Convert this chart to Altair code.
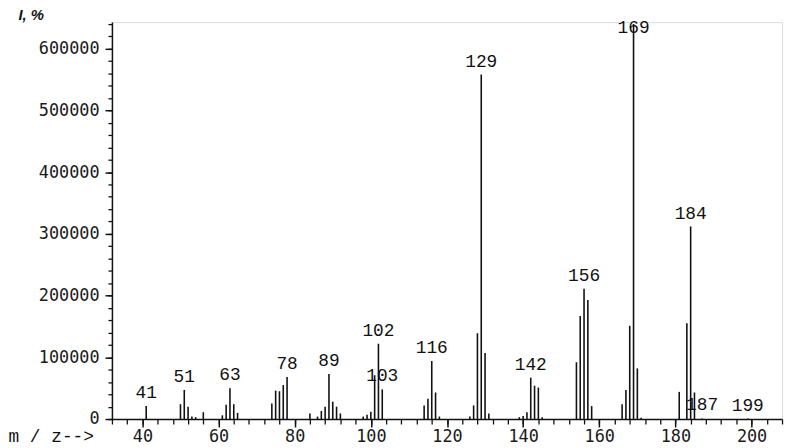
import altair as alt
import pandas as pd

# m/z of every peak stick and its abundance
mz_values = [41, 50, 51, 52, 53, 54, 56,
             61, 62, 63, 64, 65,
             74, 75, 76, 77, 78,
             84, 86, 87, 88, 89, 90, 91, 92,
             98, 99, 100, 101, 102, 103,
             114, 115, 116, 117, 118,
             126, 127, 128, 129, 130, 131,
             139, 140, 141, 142, 143, 144, 145,
             154, 155, 156, 157, 158,
             166, 167, 168, 169, 170, 171,
             181, 183, 184, 185,
             187, 199]
intensity = [21000, 24000, 47000, 20000, 4000, 3000, 11000,
             6000, 23000, 50000, 24000, 10000,
             25000, 46000, 45000, 55000, 68000,
             9000, 4000, 13000, 20000, 73000, 28000, 20000, 9000,
             4000, 7000, 12000, 71000, 122000, 48000,
             22000, 33000, 94000, 43000, 4000,
             4000, 22000, 139000, 558000, 107000, 9000,
             3000, 5000, 11000, 67000, 54000, 51000, 3000,
             92000, 167000, 211000, 193000, 21000,
             24000, 47000, 151000, 640000, 82000, 2000,
             44000, 155000, 312000, 43000,
             1000, 800]

# peaks that carry an m/z label
label_mz = [41, 51, 63, 78, 89, 102, 103, 116, 129, 142, 156, 169, 184, 187, 199]

x_major = [40, 60, 80, 100, 120, 140, 160, 180, 200]
x_minor = list(range(32, 209, 4))
y_major = [0, 100000, 200000, 300000, 400000, 500000, 600000]
y_minor = list(range(0, 640001, 20000))

peaks = pd.DataFrame({"mz": mz_values, "I": intensity})
labels = peaks[peaks["mz"].isin(label_mz)].copy()
labels["txt"] = labels["mz"].astype(str)

INK = "#111111"
xs = alt.Scale(domain=[32, 208], nice=False, zero=False)
ys = alt.Scale(domain=[0, 643000], nice=False)

x_axis = alt.Axis(
    orient="bottom", values=x_major, tickSize=8, tickWidth=1.5, tickColor=INK,
    domainColor=INK, domainWidth=1.5, grid=False,
    labelFont="DejaVu Sans Mono", labelFontSize=17, labelColor="#1a1a1a",
    labelPadding=2, labelFlush=False,
    title="m / z-->", titleFont="Liberation Mono", titleFontSize=18,
    titleFontWeight="normal", titleColor=INK, titleAlign="left",
    titleX=-105, titleY=27, titleBaseline="bottom",
)
y_axis = alt.Axis(
    orient="left", values=y_major, format="d", tickSize=7, tickWidth=1.5,
    tickColor=INK, domainColor=INK, domainWidth=1.5, grid=False,
    labelFont="DejaVu Sans Mono", labelFontSize=17, labelColor="#1a1a1a",
    labelPadding=6, labelFlush=False,
    title="I, %", titleAngle=0, titleFont="Liberation Sans", titleFontSize=15,
    titleFontStyle="italic", titleFontWeight="bold", titleColor=INK,
    titleAlign="left", titleBaseline="bottom", titleX=-95, titleY=0,
)
x_minor_axis = alt.Axis(orient="bottom", values=x_minor, tickSize=5, tickWidth=1.3,
                        tickColor=INK, labels=False, domain=False, grid=False, title=None)
y_minor_axis = alt.Axis(orient="left", values=y_minor, tickSize=4, tickWidth=1.3,
                        tickColor=INK, labels=False, domain=False, grid=False, title=None)

minor = alt.Chart(peaks).mark_point(opacity=0).encode(
    x=alt.X("mz:Q", scale=xs, axis=x_minor_axis),
    y=alt.Y("I:Q", scale=ys, axis=y_minor_axis),
)

sticks = alt.Chart(peaks).mark_rule(color=INK, strokeWidth=1.6).encode(
    x=alt.X("mz:Q", scale=xs, axis=x_axis),
    y=alt.Y("I:Q", scale=ys, axis=y_axis),
    y2=alt.datum(0),
)

peak_labels = alt.Chart(labels).transform_calculate(
    ly="min(datum.I, 612000)"
).mark_text(baseline="bottom", dy=-4, font="Liberation Mono",
            fontSize=18, color=INK).encode(
    x=alt.X("mz:Q", scale=xs, axis=None),
    y=alt.Y("ly:Q", scale=ys, axis=None),
    text="txt:N",
)

chart = alt.layer(minor, sticks, peak_labels).resolve_axis(
    x="independent", y="independent"
).properties(
    width=677, height=401,
    autosize=alt.AutoSizeParams(type="none"),
    padding={"left": 105, "top": 12, "right": 3, "bottom": 27},
).configure_view(stroke=None).configure(background="white")

chart.save("out.html", embed_options={"renderer": "svg", "actions": False})
